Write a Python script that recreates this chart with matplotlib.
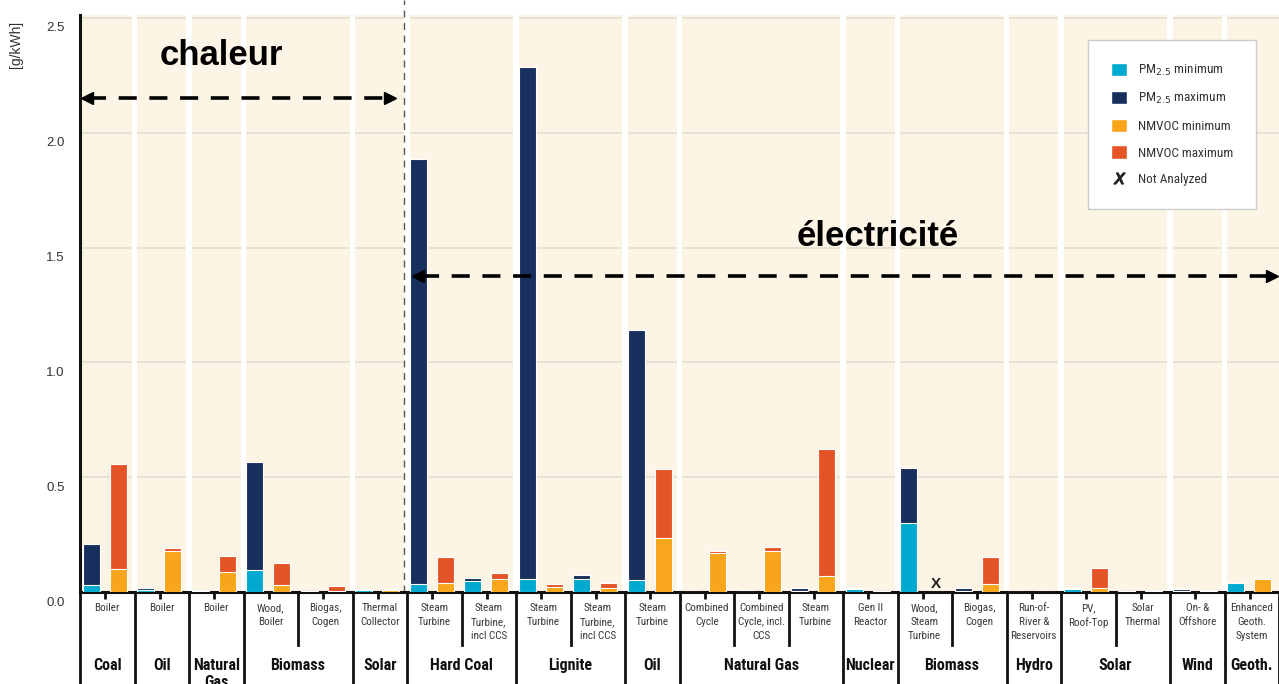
import numpy as np
import matplotlib
matplotlib.use('Agg')
import matplotlib.pyplot as plt
from matplotlib import font_manager, transforms
from matplotlib.patches import Patch
from matplotlib.lines import Line2D


def pick_font(names):
    for n in names:
        try:
            font_manager.findfont(n, fallback_to_default=False)
            return n
        except ValueError:
            pass
    return 'DejaVu Sans'


main_font = pick_font(['Liberation Sans', 'Arial', 'DejaVu Sans'])
narrow_font = pick_font(['Liberation Sans Narrow', 'Roboto Condensed', 'Liberation Sans'])
plt.rcParams['font.family'] = [main_font, 'DejaVu Sans']

# données (g/kWh)
sub_labels = ['Boiler', 'Boiler', 'Boiler', 'Wood,\nBoiler', 'Biogas,\nCogen', 'Thermal\nCollector',
              'Steam\nTurbine', 'Steam\nTurbine,\nincl CCS', 'Steam\nTurbine', 'Steam\nTurbine,\nincl CCS',
              'Steam\nTurbine', 'Combined\nCycle', 'Combined\nCycle, incl.\nCCS', 'Steam\nTurbine',
              'Gen II\nReactor', 'Wood,\nSteam\nTurbine', 'Biogas,\nCogen', 'Run-of-\nRiver &\nReservoirs',
              'PV,\nRoof-Top', 'Solar\nThermal', 'On- &\nOffshore', 'Enhanced\nGeoth.\nSystem']
groups = ['Coal', 'Oil', 'Natural\nGas', 'Biomass', 'Solar', 'Hard Coal', 'Lignite', 'Oil',
          'Natural Gas', 'Nuclear', 'Biomass', 'Hydro', 'Solar', 'Wind', 'Geoth.']
group_sizes = [1, 1, 1, 2, 1, 2, 2, 1, 3, 1, 2, 1, 2, 1, 1]

pm_min = [0.03, 0.008, 0.004, 0.096, 0.003, 0.008, 0.035, 0.05, 0.055, 0.055, 0.051,
          0.0, 0.002, 0.004, 0.012, 0.302, 0.006, 0.0, 0.012, 0.003, 0.005, 0.04]
pm_max = [0.21, 0.017, 0.008, 0.566, 0.006, 0.014, 1.886, 0.062, 2.287, 0.072, 1.141,
          0.002, 0.007, 0.017, 0.016, 0.54, 0.016, 0.0, 0.019, 0.006, 0.013, 0.04]
nm_min = [0.10, 0.18, 0.088, 0.03, 0.005, 0.008, 0.04, 0.055, 0.022, 0.017, 0.234,
          0.168, 0.178, 0.071, 0.003, np.nan, 0.033, 0.0, 0.017, 0.004, 0.005, 0.056]
nm_max = [0.557, 0.19, 0.158, 0.126, 0.026, 0.014, 0.151, 0.084, 0.036, 0.04, 0.536,
          0.18, 0.197, 0.623, 0.006, np.nan, 0.151, 0.0, 0.106, 0.01, 0.01, 0.056]

c_pm_min = '#00A9CF'
c_pm_max = '#172F5D'
c_nm_min = '#F9A51C'
c_nm_max = '#E45427'
beige = '#FCF4E4'

W, H = 1279, 684
fig = plt.figure(figsize=(W / 100, H / 100), dpi=100)
ax = fig.add_axes([80 / W, 1 - 592 / H, 1 - 80 / W, (592 - 15) / H])
ax.set_facecolor(beige)

n = len(sub_labels)
x = np.arange(n)
ax.set_xlim(0, n)
ax.set_ylim(0, 2.513)

# grille + séparations blanches entre groupes
for yv in np.arange(0.5, 2.6, 0.5):
    ax.axhline(yv, color='#E2DCD1', lw=1.1, zorder=0.5)
bounds = np.cumsum(group_sizes)
for b in bounds[:-1]:
    ax.axvspan(b - 0.05, b + 0.05, color='white', lw=0, zorder=0.8)

bw = 0.31
pm_x = x + 0.21
nm_x = x + 0.70
ax.bar(pm_x, pm_max, bw, color=c_pm_max, edgecolor='white', lw=0.8, zorder=2)
ax.bar(pm_x, pm_min, bw, color=c_pm_min, edgecolor='white', lw=0.8, zorder=3)
ax.bar(nm_x, np.nan_to_num(nm_max), bw, color=c_nm_max, edgecolor='white', lw=0.8, zorder=2)
ax.bar(nm_x, np.nan_to_num(nm_min), bw, color=c_nm_min, edgecolor='white', lw=0.8, zorder=3)

for i in range(n):
    if np.isnan(nm_max[i]):
        ax.text(nm_x[i], 0.004, 'X', ha='center', va='bottom', fontsize=11,
                fontweight='bold', color='#222222', zorder=4)

# axes
for s in ['top', 'right']:
    ax.spines[s].set_visible(False)
ax.spines['left'].set_linewidth(2.2)
ax.spines['bottom'].set_linewidth(2.2)
ax.spines['left'].set_color('#111111')
ax.spines['bottom'].set_color('#111111')
ax.set_xticks(x + 0.46)
ax.set_xticklabels([])
ax.tick_params(axis='x', length=5, width=2, color='#111111')
ax.set_yticks(np.arange(0, 2.51, 0.5))
ax.set_yticklabels([f'{v:.1f}' for v in np.arange(0, 2.51, 0.5)], fontsize=9.5, color='#333333')
ax.tick_params(axis='y', length=0, pad=11)
shift = transforms.ScaledTranslation(0, -0.09, fig.dpi_scale_trans)
for lab in ax.get_yticklabels():
    lab.set_transform(lab.get_transform() + shift)
fig.text(16 / W, 1 - 44 / H, '[g/kWh]', rotation=90, ha='center', va='center',
         fontsize=10, color='#333333')

# libellés sous l'axe
trans = transforms.blended_transform_factory(ax.transData, fig.transFigure)


def fy(py):
    return 1 - py / H


for i, lab in enumerate(sub_labels):
    ax.text(i + 0.5, fy(603), lab, transform=trans, ha='center', va='top', fontsize=8,
            family=[narrow_font, 'DejaVu Sans'], color='#3a3a3a', linespacing=1.5)

starts = np.concatenate([[0], bounds[:-1]])
for st, size, name in zip(starts, group_sizes, groups):
    ax.text(st + size / 2, fy(658), name, transform=trans, ha='center', va='top',
            fontsize=11.5, fontweight='bold', color='#111111', linespacing=1.15,
            family=[narrow_font, 'DejaVu Sans'])
    for k in range(1, size):
        ax.plot([st + k, st + k], [fy(594), fy(645)], transform=trans, color='#111111',
                lw=2, clip_on=False)
for b in np.concatenate([[0], bounds]):
    ax.plot([b, b], [fy(594), fy(H + 2)], transform=trans, color='#111111', lw=2, clip_on=False)

# annotations chaleur / électricité
ax.axvline(5.945, ymin=0, ymax=592 / 577, color='#555555', lw=1, ls=(0, (5, 4)), clip_on=False, zorder=1)
ax.text(2.6, 2.335, 'chaleur', ha='center', va='center', fontsize=25, fontweight='bold')
ax.text(14.64, 1.55, 'électricité', ha='center', va='center', fontsize=25, fontweight='bold')

arrow_y1 = 2.152
ax.plot([0.15, 5.65], [arrow_y1, arrow_y1], color='black', lw=2.6, ls=(0, (5, 3.5)), zorder=5)
ax.plot([0.12], [arrow_y1], marker='<', color='black', ms=9, zorder=5)
ax.plot([5.68], [arrow_y1], marker='>', color='black', ms=9, zorder=5)

arrow_y2 = 1.376
ax.plot([6.25, 21.85], [arrow_y2, arrow_y2], color='black', lw=2.6, ls=(0, (5, 3.5)), zorder=5, clip_on=False)
ax.plot([6.2], [arrow_y2], marker='<', color='black', ms=9, zorder=5)
ax.plot([21.88], [arrow_y2], marker='>', color='black', ms=9, zorder=5, clip_on=False)

# légende
handles = [Patch(facecolor=c_pm_min, edgecolor='white'),
           Patch(facecolor=c_pm_max, edgecolor='white'),
           Patch(facecolor=c_nm_min, edgecolor='white'),
           Patch(facecolor=c_nm_max, edgecolor='white'),
           Line2D([], [], marker='$X$', color='#222222', ls='none', markersize=8)]
labels = ['PM$_{2.5}$ minimum', 'PM$_{2.5}$ maximum', 'NMVOC minimum', 'NMVOC maximum', 'Not Analyzed']
leg = ax.legend(handles, labels, loc='upper right', bbox_to_anchor=(0.981, 0.957),
                borderaxespad=0, fontsize=9, frameon=True, fancybox=False,
                handlelength=1.2, handleheight=1.2, handletextpad=0.8,
                labelspacing=0.95, borderpad=1.75, framealpha=1,
                prop={'family': [narrow_font, 'DejaVu Sans'], 'size': 9.5})
leg.get_frame().set_edgecolor('#CCCCCC')
leg.get_frame().set_linewidth(1)
for t in leg.get_texts():
    t.set_color('#333333')

fig.savefig('out.png', dpi=100)
